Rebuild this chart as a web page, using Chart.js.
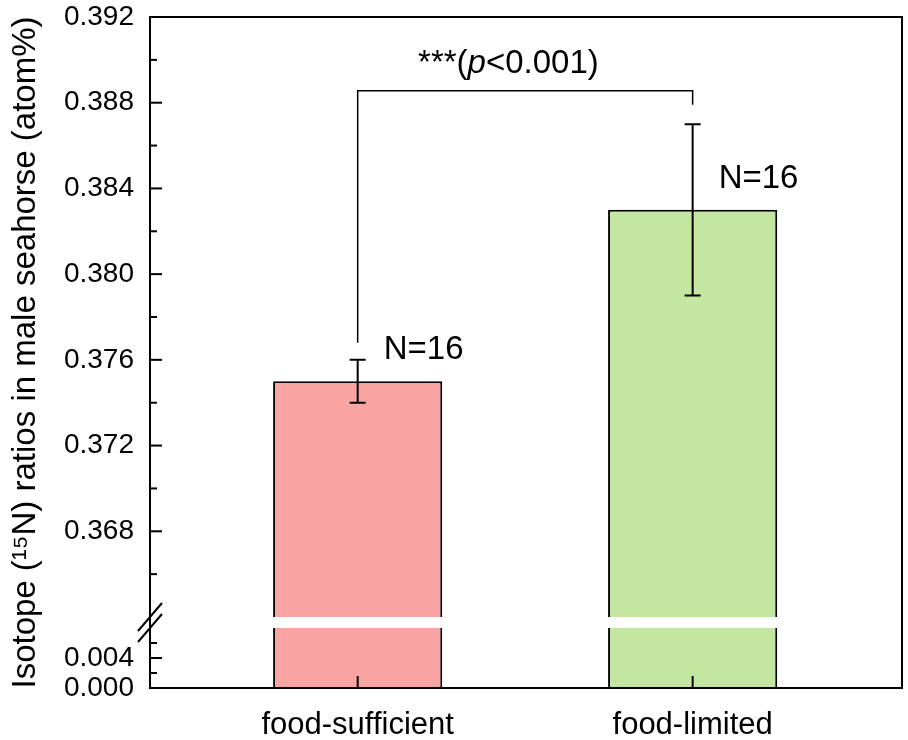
<!DOCTYPE html>
<html>
<head>
<meta charset="utf-8">
<title>Isotope ratios</title>
<script src="https://cdn.jsdelivr.net/npm/chart.js@4.4.1/dist/chart.umd.min.js"></script>
<style>
  html, body { margin: 0; padding: 0; background: #fff; }
  #wrap { width: 908px; height: 740px; }
</style>
</head>
<body>
<div id="wrap"><canvas id="chart" width="908" height="740"></canvas></div>
<script>
// Datos del gráfico
const categories = ['food-sufficient', 'food-limited'];
const groupX = [1, 2];
const means = [0.375, 0.383];
const errors = [0.001, 0.004];
const sampleLabels = ['N=16', 'N=16'];
const barColors = ['#FBA4A4', '#C3E6A0'];

// Eje Y partido: tramo superior e inferior
const upperRange = [0.364, 0.392];
const lowerRange = [0, 0.008];
const tickStep = 0.002;
const labelEvery = 4; // en milésimas

// Corchete de significancia
const bracketLevel = 0.38856;
const bracketFeet = [0.3768, 0.3879];
const sigParts = ['***(', 'p', '<0.001)'];
const sigAnchor = [1.45, 0.3894];

const FONT = '"Liberation Sans", Arial, sans-serif';
const INK = '#000';

const isMajor = v => Math.round(v * 1000) % labelEvery === 0;

const yTickLabel = v => (isMajor(v) ? Number(v).toFixed(3) : '');

// Sin relleno extra de Chart.js alrededor del área
const noPadding = s => {
  s.paddingTop = 0;
  s.paddingBottom = 0;
  s.paddingLeft = 0;
  s.paddingRight = 0;
};

// Marcas de los ejes hacia dentro, marco y rotura del eje
const framePlugin = {
  id: 'frame',
  afterDatasetsDraw(chart) {
    const { ctx, chartArea, scales } = chart;
    ctx.save();
    ctx.strokeStyle = INK;
    ctx.lineWidth = 2;

    // barras de error
    groupX.forEach((gx, i) => {
      const px = scales.x.getPixelForValue(gx);
      const top = scales.y.getPixelForValue(means[i] + errors[i]);
      const bot = scales.y.getPixelForValue(means[i] - errors[i]);
      ctx.beginPath();
      ctx.moveTo(px, top); ctx.lineTo(px, bot);
      ctx.moveTo(px - 8, top); ctx.lineTo(px + 8, top);
      ctx.moveTo(px - 8, bot); ctx.lineTo(px + 8, bot);
      ctx.stroke();
    });

    // etiquetas N
    ctx.fillStyle = INK;
    ctx.font = `33px ${FONT}`;
    ctx.textAlign = 'left';
    ctx.textBaseline = 'alphabetic';
    groupX.forEach((gx, i) => {
      const px = scales.x.getPixelForValue(gx);
      const py = scales.y.getPixelForValue(means[i]);
      ctx.fillText(sampleLabels[i], px + 26, py - 22);
    });

    // texto de significancia con p en cursiva
    const fonts = [`33px ${FONT}`, `italic 33px ${FONT}`, `33px ${FONT}`];
    const widths = sigParts.map((t, i) => { ctx.font = fonts[i]; return ctx.measureText(t).width; });
    let sx = scales.x.getPixelForValue(sigAnchor[0]) - widths.reduce((a, b) => a + b, 0) / 2;
    const sy = scales.y.getPixelForValue(sigAnchor[1]);
    sigParts.forEach((t, i) => {
      ctx.font = fonts[i];
      ctx.fillText(t, sx, sy);
      sx += widths[i];
    });

    // ticks hacia dentro
    ctx.lineWidth = 2;
    ['y', 'yLow'].forEach(id => {
      const s = scales[id];
      s.ticks.forEach(t => {
        const py = s.getPixelForValue(t.value);
        const len = isMajor(t.value) ? 12 : 7;
        ctx.beginPath();
        ctx.moveTo(chartArea.left, py);
        ctx.lineTo(chartArea.left + len, py);
        ctx.stroke();
      });
    });
    scales.x.ticks.forEach(t => {
      const px = scales.x.getPixelForValue(t.value);
      ctx.beginPath();
      ctx.moveTo(px, chartArea.bottom);
      ctx.lineTo(px, chartArea.bottom - 12);
      ctx.stroke();
    });

    // marco
    ctx.strokeRect(chartArea.left, chartArea.top, chartArea.right - chartArea.left, chartArea.bottom - chartArea.top);

    // rotura del eje
    const gap = scales.yGap;
    const ax = chartArea.left;
    ctx.beginPath();
    [gap.top, gap.bottom].forEach(gy => {
      ctx.moveTo(ax - 12, gy + 14);
      ctx.lineTo(ax + 12, gy - 14);
    });
    ctx.stroke();
    ctx.restore();
  }
};

const barPoints = groupX.map((x, i) => ({ x, y: means[i] }));
const bracketPoints = [
  { x: groupX[0], y: bracketFeet[0] },
  { x: groupX[0], y: bracketLevel },
  { x: groupX[1], y: bracketLevel },
  { x: groupX[1], y: bracketFeet[1] }
];

const barStyle = {
  backgroundColor: barColors,
  borderColor: INK,
  borderWidth: 2,
  grouped: false,
  categoryPercentage: 1,
  barPercentage: 0.505
};

// keep: 'top' quita la marca del mínimo, 'bottom' la del máximo
const yStackScale = (range, weight, showTicks, keep) => ({
  type: 'linear',
  position: 'left',
  stack: 'left',
  stackWeight: weight,
  min: range[0],
  max: range[1],
  grid: { display: false, drawTicks: false },
  border: { display: false },
  ticks: {
    display: showTicks,
    stepSize: tickStep,
    autoSkip: false,
    padding: 16,
    color: INK,
    font: { family: FONT, size: 28 },
    callback: yTickLabel
  },
  afterBuildTicks: s => {
    const eps = 1e-9;
    s.ticks = s.ticks.filter(t => keep === 'top' ? t.value > range[0] + eps : t.value < range[1] - eps);
  },
  afterFit: s => { s.width = 105; noPadding(s); }
});

new Chart(document.getElementById('chart'), {
  type: 'bar',
  data: {
    datasets: [
      { ...barStyle, data: barPoints, xAxisID: 'x', yAxisID: 'yLow' },
      { ...barStyle, data: barPoints, xAxisID: 'x', yAxisID: 'y' },
      {
        type: 'line',
        data: bracketPoints,
        xAxisID: 'x',
        yAxisID: 'y',
        borderColor: INK,
        borderWidth: 1.5,
        pointRadius: 0,
        tension: 0,
        fill: false
      }
    ]
  },
  options: {
    responsive: false,
    animation: false,
    devicePixelRatio: 1,
    layout: { padding: { top: 17, right: 6, left: 0, bottom: 0 } },
    plugins: { legend: { display: false }, tooltip: { enabled: false } },
    scales: {
      x: {
        type: 'linear',
        offset: false,
        min: 0.38,
        max: 2.625,
        grid: { display: false, drawTicks: false, offset: false },
        border: { display: false },
        ticks: {
          autoSkip: false,
          maxRotation: 0,
          padding: 19,
          color: INK,
          font: { family: FONT, size: 31 },
          callback: v => categories[groupX.indexOf(v)]
        },
        afterBuildTicks: s => { s.ticks = groupX.map(v => ({ value: v })); },
        afterFit: s => { s.height = 52; noPadding(s); }
      },
      yTitle: {
        type: 'linear',
        position: 'left',
        weight: 1,
        min: 0,
        max: 1,
        grid: { display: false, drawTicks: false },
        border: { display: false },
        ticks: { display: false },
        title: {
          display: true,
          text: 'Isotope (¹⁵N) ratios in male seahorse (atom%)',
          color: INK,
          font: { family: FONT, size: 33 },
          padding: { top: 6, bottom: 0 }
        },
        afterFit: s => { s.width = 45; noPadding(s); }
      },
      yLow: yStackScale(lowerRange, 60, true, 'bottom'),
      yGap: yStackScale([0, 1], 11, false, 'bottom'),
      y: yStackScale(upperRange, 600, true, 'top')
    }
  },
  plugins: [framePlugin]
});
</script>
</body>
</html>
